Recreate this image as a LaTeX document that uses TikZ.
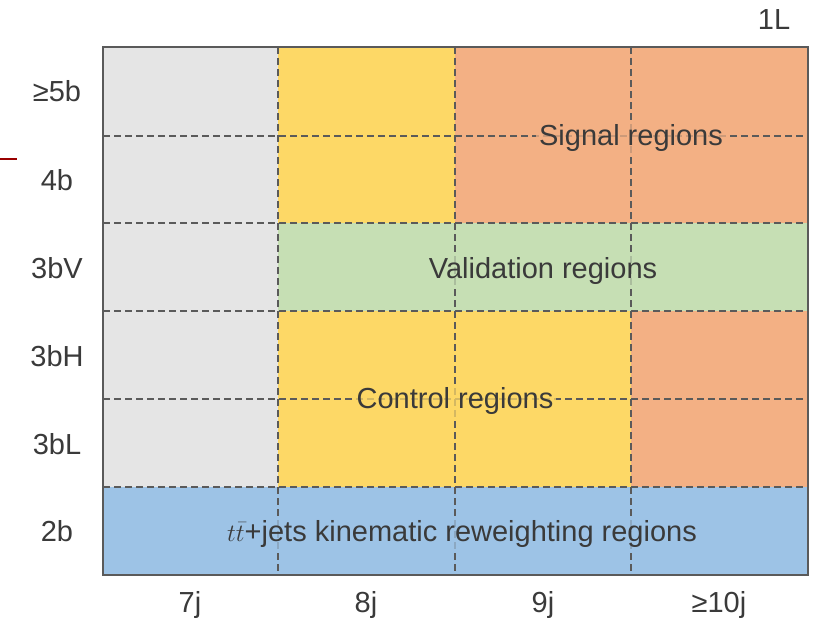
\documentclass[tikz,border=0pt]{standalone}
\usepackage{fontspec}
\setmainfont{Liberation Sans}
\usepackage{tikz}

\definecolor{cgrey}{HTML}{E5E5E5}
\definecolor{cyellow}{HTML}{FDD866}
\definecolor{corange}{HTML}{F3B084}
\definecolor{cgreen}{HTML}{C6DFB4}
\definecolor{cblue}{HTML}{9DC3E6}
\definecolor{ctext}{HTML}{3A3A3A}
\definecolor{cline}{HTML}{5A5A5A}

\tikzset{
  axislabel/.style={text=ctext,font=\fontsize{29}{31}\selectfont},
  regionbg/.style={font=\fontsize{29}{31}\selectfont,
    fill opacity=0.75,inner sep=3pt},
  regionlabel/.style={text=ctext,font=\fontsize{29}{31}\selectfont,inner sep=3pt},
  gridline/.style={cline,line width=1.3pt,dash pattern=on 7pt off 4pt},
}

\begin{document}
\begin{tikzpicture}[x=1pt,y=-1pt]
    \useasboundingbox (0,0) rectangle (816,626);
      %coloured blocks of the region grid
    \fill[cgrey]   (103,47)  rectangle (278,487);
    \fill[cyellow] (278,47)  rectangle (455,223);
    \fill[cyellow] (278,311) rectangle (631,487);
    \fill[corange] (455,47)  rectangle (808,223);
    \fill[corange] (631,311) rectangle (808,487);
    \fill[cgreen]  (278,223) rectangle (808,311);
    \fill[cblue]   (103,487) rectangle (808,575);
      %dashed cell boundaries
    \foreach \x in {278,455,631}
      \draw[gridline] (\x,47) -- (\x,575);
    \foreach \y in {136,223,311,399,487}
      \draw[gridline] (103,\y) -- (808,\y);
    \draw[cline,line width=1.8pt] (103,47) rectangle (808,575);
      %row and column labels
    \foreach \n/\lab/\y in {r1/{≥5b}/91,r2/4b/180,r3/3bV/268,r4/3bH/356,r5/3bL/444,r6/2b/531}
      \node[axislabel] (\n) at (57,\y) {\lab};
    \foreach \n/\lab/\x in {c1/7j/190,c2/8j/366,c3/9j/543,c4/{≥10j}/719}
      \node[axislabel] (\n) at (\x,605) {\lab};
    \node[axislabel] (chan) at (774,20) {1L};
      %region names, half-transparent patch under each
    \foreach \n/\col/\x/\y/\lab in {sig/corange/631/138/{Signal regions},
        val/cgreen/543/271/{Validation regions},
        ctl/cyellow/455/401/{Control regions},
        rew/cblue/462/534/{$t\bar{t}$+jets kinematic reweighting regions}}
    {
      \node[regionbg,fill=\col] (\n bg) at (\x,\y) {\phantom{\lab}};
      \node[regionlabel] (\n) at (\n bg) {\lab};
    }
    \draw[red!60!black,line width=1.8pt] (0,159) -- (17,159);
\end{tikzpicture}
\end{document}
